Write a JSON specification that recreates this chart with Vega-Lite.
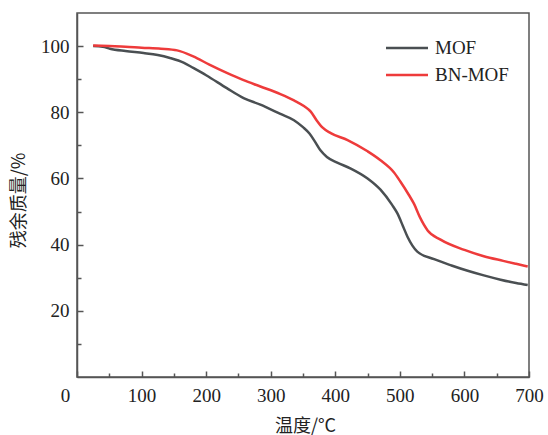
{
  "$schema": "https://vega.github.io/schema/vega-lite/v6.json",
  "autosize": "none",
  "width": 452,
  "height": 364,
  "padding": {"left": 77, "top": 13, "right": 19, "bottom": 58},
  "background": "white",
  "config": {
    "view": {"stroke": "#555555", "strokeWidth": 1.5},
    "axis": {"grid": false, "domainColor": "#555555", "domainWidth": 1.5, "tickColor": "#555555", "tickWidth": 1.5,
      "labelFont": "Liberation Serif", "labelFontSize": 19, "labelColor": "#222222", "labelFlush": false,
      "titleFont": "Noto Sans CJK SC", "titleFontSize": 18, "titleFontWeight": "normal", "titleColor": "#222222"},
    "legend": {"labelFont": "Liberation Serif", "labelFontSize": 19, "labelColor": "#222222"}
  },
  "data": {"values": [
    {"t": 25, "m": 100, "s": "MOF"}, {"t": 40, "m": 99.8, "s": "MOF"}, {"t": 51, "m": 99.2, "s": "MOF"}, {"t": 75, "m": 98.5, "s": "MOF"},
    {"t": 103, "m": 97.9, "s": "MOF"}, {"t": 125, "m": 97.3, "s": "MOF"}, {"t": 144, "m": 96.4, "s": "MOF"}, {"t": 165, "m": 95, "s": "MOF"},
    {"t": 180, "m": 93.4, "s": "MOF"}, {"t": 200, "m": 91.2, "s": "MOF"}, {"t": 232, "m": 87.3, "s": "MOF"}, {"t": 258, "m": 84.3, "s": "MOF"},
    {"t": 284, "m": 82.3, "s": "MOF"}, {"t": 315, "m": 79.5, "s": "MOF"}, {"t": 336, "m": 77.6, "s": "MOF"}, {"t": 350, "m": 75.5, "s": "MOF"},
    {"t": 360, "m": 73.6, "s": "MOF"}, {"t": 368, "m": 71.3, "s": "MOF"}, {"t": 377, "m": 68.5, "s": "MOF"}, {"t": 387, "m": 66.5, "s": "MOF"},
    {"t": 403, "m": 64.8, "s": "MOF"}, {"t": 424, "m": 63, "s": "MOF"}, {"t": 450, "m": 60, "s": "MOF"}, {"t": 470, "m": 56.6, "s": "MOF"},
    {"t": 488, "m": 52, "s": "MOF"}, {"t": 496, "m": 49.5, "s": "MOF"}, {"t": 505, "m": 45.5, "s": "MOF"}, {"t": 512, "m": 42.3, "s": "MOF"},
    {"t": 527, "m": 37.9, "s": "MOF"}, {"t": 553, "m": 35.6, "s": "MOF"}, {"t": 580, "m": 33.7, "s": "MOF"}, {"t": 605, "m": 32.1, "s": "MOF"},
    {"t": 630, "m": 30.7, "s": "MOF"}, {"t": 656, "m": 29.4, "s": "MOF"}, {"t": 680, "m": 28.4, "s": "MOF"}, {"t": 698, "m": 27.8, "s": "MOF"},
    {"t": 25, "m": 100.2, "s": "BN-MOF"}, {"t": 50, "m": 100, "s": "BN-MOF"}, {"t": 75, "m": 99.8, "s": "BN-MOF"}, {"t": 100, "m": 99.5, "s": "BN-MOF"},
    {"t": 130, "m": 99.2, "s": "BN-MOF"}, {"t": 155, "m": 98.7, "s": "BN-MOF"}, {"t": 180, "m": 96.9, "s": "BN-MOF"}, {"t": 205, "m": 94.4, "s": "BN-MOF"},
    {"t": 232, "m": 91.9, "s": "BN-MOF"}, {"t": 258, "m": 89.7, "s": "BN-MOF"}, {"t": 284, "m": 87.8, "s": "BN-MOF"}, {"t": 315, "m": 85.5, "s": "BN-MOF"},
    {"t": 336, "m": 83.6, "s": "BN-MOF"}, {"t": 352, "m": 81.8, "s": "BN-MOF"}, {"t": 362, "m": 80.2, "s": "BN-MOF"}, {"t": 371, "m": 77.6, "s": "BN-MOF"},
    {"t": 380, "m": 75.4, "s": "BN-MOF"}, {"t": 393, "m": 73.7, "s": "BN-MOF"}, {"t": 419, "m": 71.6, "s": "BN-MOF"}, {"t": 450, "m": 68.2, "s": "BN-MOF"},
    {"t": 470, "m": 65.5, "s": "BN-MOF"}, {"t": 491, "m": 61.8, "s": "BN-MOF"}, {"t": 501, "m": 59, "s": "BN-MOF"}, {"t": 514, "m": 55, "s": "BN-MOF"},
    {"t": 522, "m": 52.3, "s": "BN-MOF"}, {"t": 531, "m": 48.3, "s": "BN-MOF"}, {"t": 543, "m": 44.3, "s": "BN-MOF"}, {"t": 563, "m": 41.5, "s": "BN-MOF"},
    {"t": 600, "m": 38.4, "s": "BN-MOF"}, {"t": 630, "m": 36.5, "s": "BN-MOF"}, {"t": 660, "m": 35.1, "s": "BN-MOF"}, {"t": 680, "m": 34.2, "s": "BN-MOF"},
    {"t": 698, "m": 33.4, "s": "BN-MOF"}
  ]},
  "mark": {"type": "line", "interpolate": "monotone", "strokeWidth": 2.5},
  "encoding": {
    "x": {"field": "t", "type": "quantitative", "scale": {"domain": [0, 700], "nice": false},
      "axis": {"title": "温度/°C", "values": [0, 50, 100, 150, 200, 250, 300, 350, 400, 450, 500, 550, 600, 650, 700],
        "labelExpr": "datum.value % 100 == 0 ? datum.label : ''",
        "tickSize": {"condition": {"test": "datum.value % 100 == 0", "value": -6}, "value": -4},
        "labelPadding": 15,
        "labelOffset": {"expr": "datum.value == 0 ? -12 : 0"},
        "titleX": 228, "titleY": 49, "titleBaseline": "middle", "titleAlign": "center"}},
    "y": {"field": "m", "type": "quantitative", "scale": {"domain": [0, 110], "nice": false},
      "axis": {"title": "残余质量/%", "values": [10, 20, 30, 40, 50, 60, 70, 80, 90, 100],
        "labelExpr": "datum.value % 20 == 0 ? datum.label : ''",
        "tickSize": {"condition": {"test": "datum.value % 20 == 0", "value": -6}, "value": -4},
        "labelPadding": 14,
        "titleX": -58, "titleY": 187, "titleAngle": -90, "titleBaseline": "middle", "titleAlign": "center"}},
    "color": {"field": "s", "type": "nominal", "sort": ["MOF", "BN-MOF"],
      "scale": {"domain": ["MOF", "BN-MOF"], "range": ["#4a4f52", "#ee3b3b"]},
      "legend": {"title": null, "orient": "none", "legendX": 318, "legendY": 23, "padding": 0,
        "symbolType": "M-2,0H2", "symbolSize": 441, "symbolStrokeWidth": 2.5, "labelOffset": 16, "rowPadding": 5}}
  }
}
